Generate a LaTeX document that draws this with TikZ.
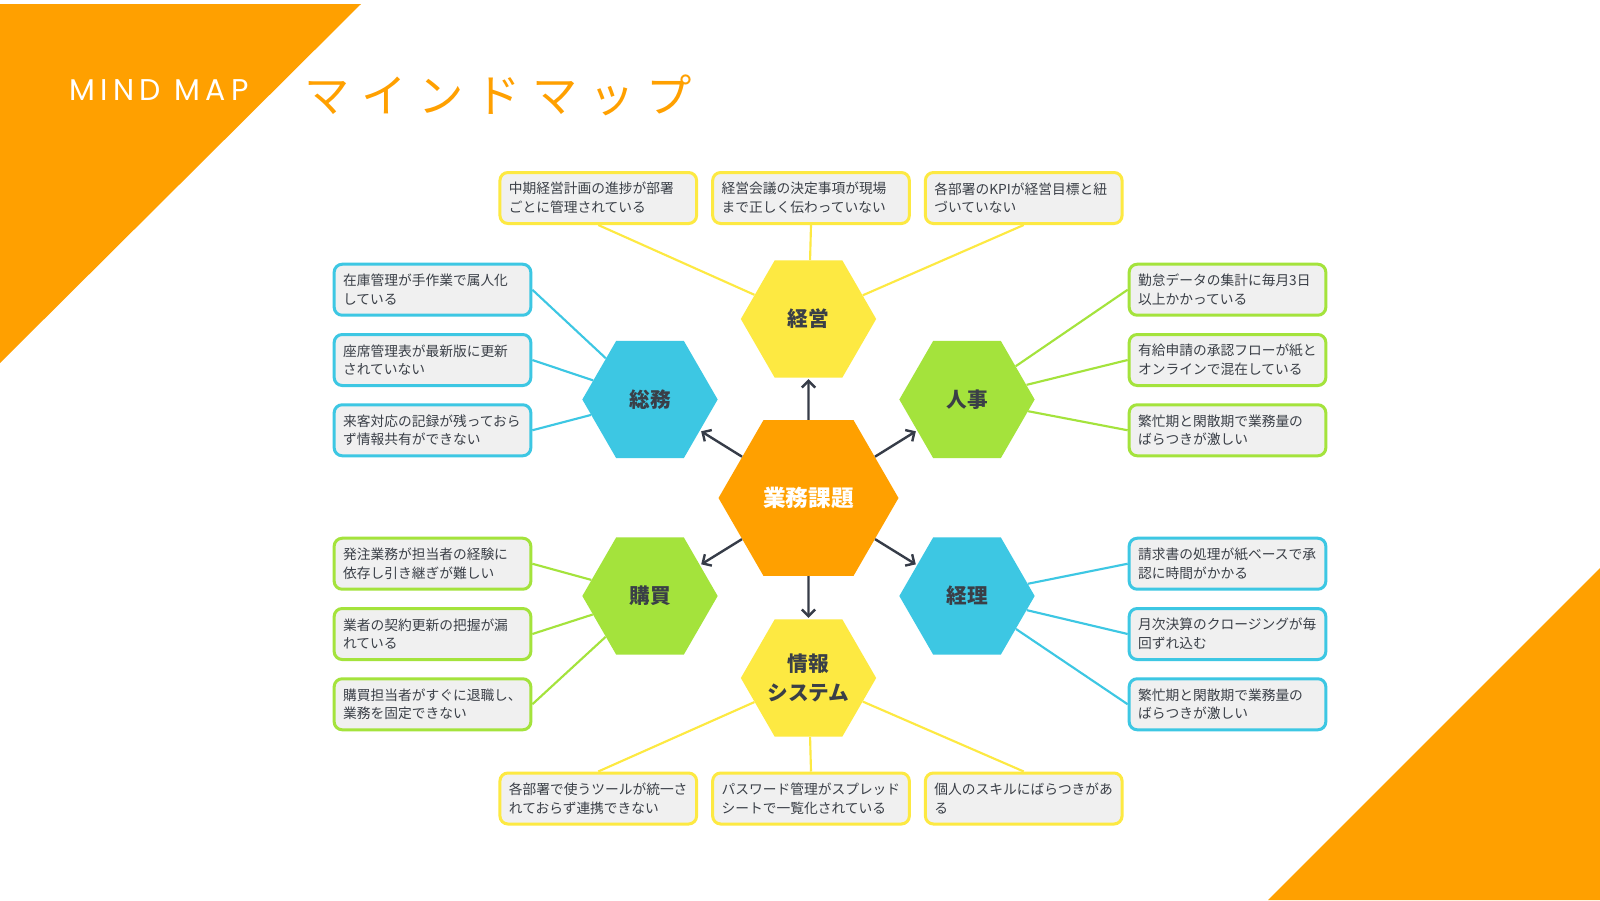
\documentclass[tikz,border=0pt]{standalone}
\usepackage{fontspec}
\newfontfamily\jpfont{Noto Sans CJK JP}
\newfontfamily\kanafont[LetterSpace=26]{Noto Sans CJK JP}
\newfontfamily\enfont[LetterSpace=18]{Poppins}
\usepackage{tikz}
\usetikzlibrary{positioning, arrows.meta, shapes.geometric}

\definecolor{mmorange}{HTML}{FFA000}
\definecolor{mmyellow}{HTML}{FDE942}
\definecolor{mmcyan}{HTML}{3DC7E3}
\definecolor{mmgreen}{HTML}{A4E33C}
\definecolor{boxgray}{HTML}{F0F0F0}
\definecolor{inkgray}{HTML}{3A3F47}
\definecolor{arrowgray}{HTML}{363C48}

\begin{document}
\begin{tikzpicture}[
    x=0.75pt, y=-0.75pt,
    node distance=12.2pt and 9.8pt,
    hub/.style={regular polygon, regular polygon sides=6, minimum size=135pt, inner sep=0pt, fill=mmorange, text=white, font=\jpfont\bfseries\fontsize{17pt}{20pt}\selectfont},
    dept/.style={regular polygon, regular polygon sides=6, minimum size=101.5pt, inner sep=0pt, text=inkgray, align=center, font=\jpfont\bfseries\fontsize{15.5pt}{21.5pt}\selectfont},
    issue/.style={rectangle, rounded corners=6pt, line width=2.25pt, fill=boxgray, text=inkgray, text width=134pt, inner xsep=6.75pt, minimum height=38.25pt, align=left, font=\jpfont\fontsize{10.3pt}{14pt}\selectfont},
    link/.style={line width=1.6pt},
    arrow/.style={-{Straight Barb[length=5pt, width=10pt]}, line width=1.8pt, draw=arrowgray, shorten >=1pt}
]

% Page and corner triangles
\useasboundingbox (0,0) rectangle (1600,900);
\fill[white] (0,0) rectangle (1600,900);
\fill[mmorange] (0,4) -- (361,4) -- (0,363) -- cycle;
\fill[mmorange] (1600,568) -- (1600,900) -- (1268,900) -- cycle;

% Title
\node[anchor=base west, inner sep=0pt, text=white, font=\enfont\fontsize{22.5pt}{24pt}\selectfont] (entitle) at (69,100.7) {MIND MAP};
\node[anchor=west, inner sep=0pt, text=mmorange, font=\kanafont\fontsize{34pt}{36pt}\selectfont] (jatitle) at (304,95) {マインドマップ};

% Hexagons
\node[hub] (core) at (808.5,498) {業務課題};
\node[dept, fill=mmyellow] (keiei) at (808.5,319) {経営};
\node[dept, fill=mmcyan] (soumu) at (650,399.5) {総務};
\node[dept, fill=mmgreen] (jinji) at (967,399.5) {人事};
\node[dept, fill=mmgreen] (koubai) at (650,596) {購買};
\node[dept, fill=mmcyan] (keiri) at (967,596) {経理};
\node[dept, fill=mmyellow] (jouhou) at (808.5,678) {情報\\システム};

% Arrows from the core
\foreach \d in {keiei, soumu, jinji, koubai, keiri, jouhou}{
  \draw[arrow] (core) -- (\d);
}

% Issues: keiei (top row)
\node[issue, draw=mmyellow] (keiei2) at (811,198) {経営会議の決定事項が現場\\まで正しく伝わっていない};
\node[issue, draw=mmyellow, left=of keiei2] (keiei1) {中期経営計画の進捗が部署\\ごとに管理されている};
\node[issue, draw=mmyellow, right=of keiei2] (keiei3) {各部署のKPIが経営目標と紐\\づいていない};

% Issues: soumu (upper left)
\node[issue, draw=mmcyan] (soumu2) at (432.5,360) {座席管理表が最新版に更新\\されていない};
\node[issue, draw=mmcyan, above=of soumu2] (soumu1) {在庫管理が手作業で属人化\\している};
\node[issue, draw=mmcyan, below=of soumu2] (soumu3) {来客対応の記録が残っておら\\ず情報共有ができない};

% Issues: jinji (upper right)
\node[issue, draw=mmgreen] (jinji2) at (1227.5,360) {有給申請の承認フローが紙と\\オンラインで混在している};
\node[issue, draw=mmgreen, above=of jinji2] (jinji1) {勤怠データの集計に毎月3日\\以上かかっている};
\node[issue, draw=mmgreen, below=of jinji2] (jinji3) {繁忙期と閑散期で業務量の\\ばらつきが激しい};

% Issues: koubai (lower left)
\node[issue, draw=mmgreen] (koubai2) at (432.5,634) {業者の契約更新の把握が漏\\れている};
\node[issue, draw=mmgreen, above=of koubai2] (koubai1) {発注業務が担当者の経験に\\依存し引き継ぎが難しい};
\node[issue, draw=mmgreen, below=of koubai2] (koubai3) {購買担当者がすぐに退職し、\\業務を固定できない};

% Issues: keiri (lower right)
\node[issue, draw=mmcyan] (keiri2) at (1227.5,634) {月次決算のクロージングが毎\\回ずれ込む};
\node[issue, draw=mmcyan, above=of keiri2] (keiri1) {請求書の処理が紙ベースで承\\認に時間がかかる};
\node[issue, draw=mmcyan, below=of keiri2] (keiri3) {繁忙期と閑散期で業務量の\\ばらつきが激しい};

% Issues: jouhou (bottom row)
\node[issue, draw=mmyellow] (jouhou2) at (811,798.5) {パスワード管理がスプレッド\\シートで一覧化されている};
\node[issue, draw=mmyellow, left=of jouhou2] (jouhou1) {各部署で使うツールが統一さ\\れておらず連携できない};
\node[issue, draw=mmyellow, right=of jouhou2] (jouhou3) {個人のスキルにばらつきがあ\\る};

% Connector lines
\foreach \i in {1,2,3}{
  \draw[link, mmyellow] (keiei\i.south) -- (keiei);
  \draw[link, mmcyan] (soumu\i.east) -- (soumu);
  \draw[link, mmgreen] (jinji\i.west) -- (jinji);
  \draw[link, mmgreen] (koubai\i.east) -- (koubai);
  \draw[link, mmcyan] (keiri\i.west) -- (keiri);
  \draw[link, mmyellow] (jouhou\i.north) -- (jouhou);
}

\end{tikzpicture}
\end{document}
